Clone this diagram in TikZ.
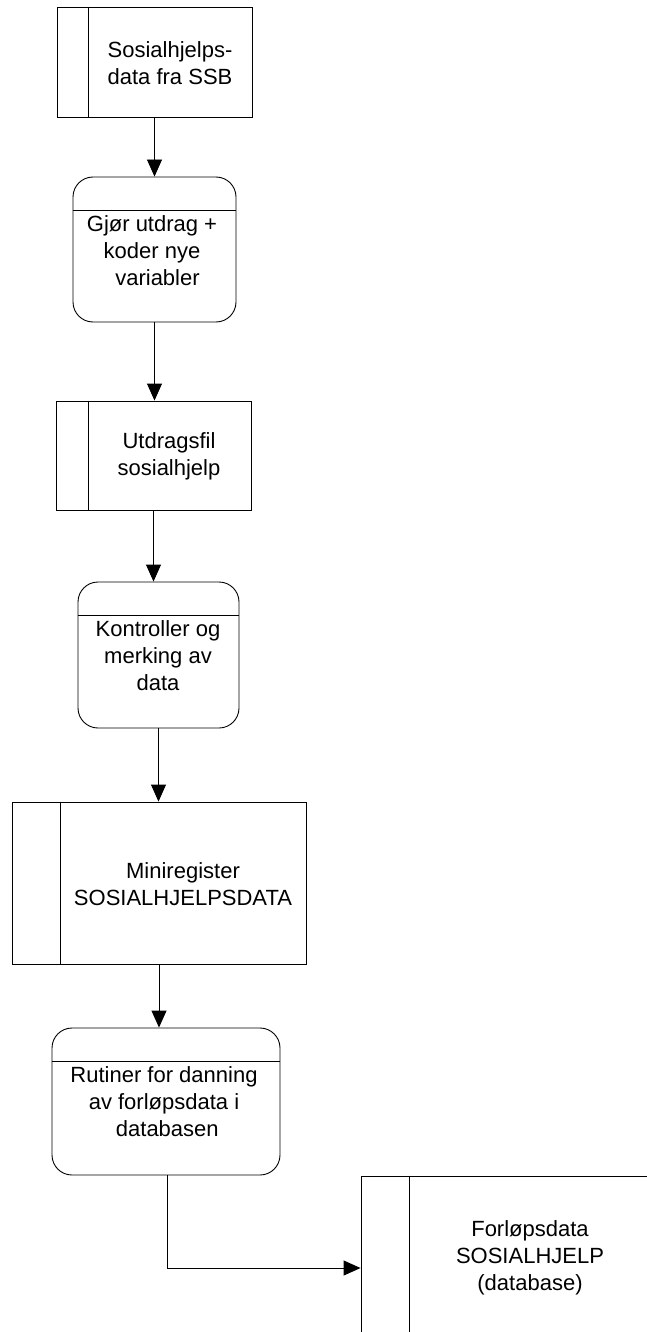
\documentclass[tikz,border=0pt]{standalone}
\usepackage{fontspec}
\setmainfont{Liberation Sans}
\usetikzlibrary{arrows.meta}
\begin{document}
\begin{tikzpicture}[x=1pt,y=-1pt,
  line width=0.9pt,
  storebox/.style={draw, rectangle, inner sep=0pt},
  procbox/.style={draw, rectangle, rounded corners=20pt, inner sep=0pt},
  txt/.style={align=center, inner sep=0pt, font=\fontsize{22}{27}\selectfont},
  flow/.style={-{Triangle[length=17pt,width=15pt]}}
]
\useasboundingbox (0,0) rectangle (647,1332);
\clip (0,0) rectangle (647,1332);
% boxes
\node[storebox, minimum width=195pt, minimum height=110pt] (b1) at (154.5,62) {};
\node[procbox, minimum width=163pt, minimum height=145pt] (p2) at (154.5,249.5) {};
\node[storebox, minimum width=195pt, minimum height=109pt] (b3) at (153.5,455.5) {};
\node[procbox, minimum width=161pt, minimum height=146pt] (p4) at (158.5,655) {};
\node[storebox, minimum width=294pt, minimum height=162pt] (b5) at (159,883) {};
\node[procbox, minimum width=228pt, minimum height=147pt] (p6) at (166,1101.5) {};
\node[storebox, minimum width=289pt, minimum height=162pt] (b7) at (505.5,1257) {};
% inner dividers
\draw ([xshift=32pt]b1.north west) -- ([xshift=32pt]b1.south west);
\draw ([xshift=33pt]b3.north west) -- ([xshift=33pt]b3.south west);
\draw ([xshift=49pt]b5.north west) -- ([xshift=49pt]b5.south west);
\draw ([xshift=49pt]b7.north west) -- ([xshift=49pt]b7.south west);
\draw ([yshift=-34pt]p2.north west) -- ([yshift=-34pt]p2.north east);
\draw ([yshift=-34pt]p4.north west) -- ([yshift=-34pt]p4.north east);
\draw ([yshift=-34pt]p6.north west) -- ([yshift=-34pt]p6.north east);
% texts
\node[txt] (t1) at (170,63.5) {Sosialhjelps-\\data fra SSB};
\node[txt] (t2) at (152,251) {Gjør utdrag +\\koder nye\\\hspace*{0.5em}variabler};
\node[txt] (t3) at (169,456.5) {Utdragsfil\\sosialhjelp};
\node[txt] (t4) at (158,656) {Kontroller og\\merking av\\data};
\node[txt] (t5) at (183,884.5) {Miniregister\\SOSIALHJELPSDATA};
\node[txt] (t6) at (164,1102) {Rutiner for danning\\av forløpsdata i\\\hspace*{0.3em}databasen};
\node[txt] (t7) at (530,1258) {Forløpsdata\\SOSIALHJELP\\(database)};
% connectors
\draw[flow] (b1.south) -- (b1.south |- p2.north);
\draw[flow] (p2.south) -- (p2.south |- b3.north);
\draw[flow] (b3.south) -- (b3.south |- p4.north);
\draw[flow] (p4.south) -- (p4.south |- b5.north);
\draw[flow] (b5.south) -- (b5.south |- p6.north);
\coordinate (in7) at ([yshift=-11pt]b7.west);
\draw[flow] ([xshift=1pt]p6.south) |- (in7);
\end{tikzpicture}
\end{document}
